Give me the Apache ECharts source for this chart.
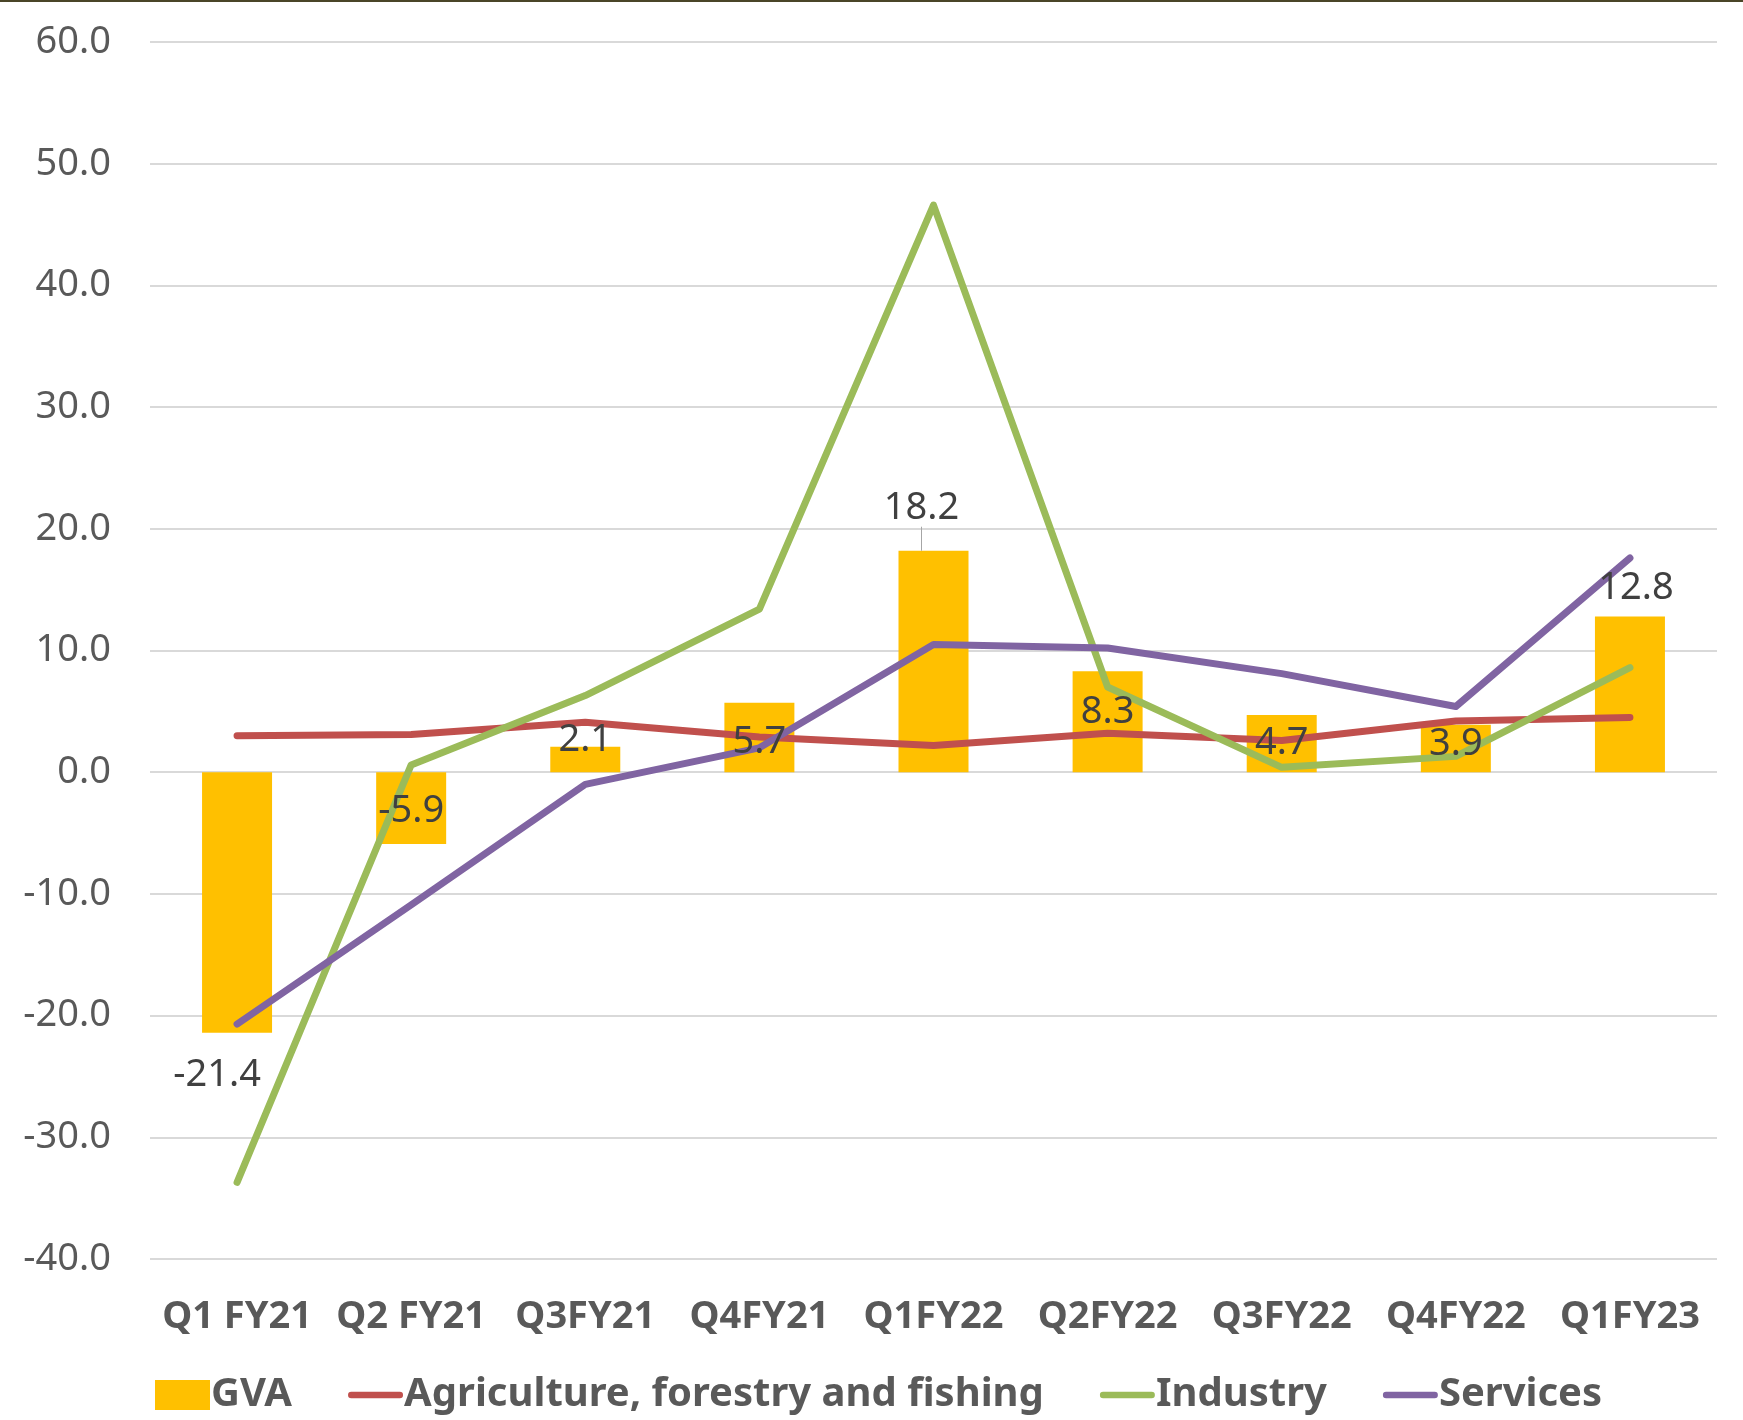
<!DOCTYPE html>
<html><head><meta charset="utf-8">
<script src="https://cdn.jsdelivr.net/npm/echarts@6/dist/echarts.min.js"></script>
<style>html,body{margin:0;padding:0;background:#fff}#c{width:1743px;height:1420px}</style>
</head><body><div id="c"></div>
<script>
const categories = ['Q1 FY21','Q2 FY21','Q3FY21','Q4FY21','Q1FY22','Q2FY22','Q3FY22','Q4FY22','Q1FY23'];
const gva = [-21.4, -5.9, 2.1, 5.7, 18.2, 8.3, 4.7, 3.9, 12.8];
const agriculture = [3.0, 3.1, 4.1, 2.9, 2.2, 3.2, 2.6, 4.2, 4.5];
const industry = [-33.7, 0.6, 6.3, 13.4, 46.6, 7.0, 0.4, 1.3, 8.6];
const services = [-20.7, -10.9, -1.0, 2.0, 10.5, 10.2, 8.1, 5.4, 17.6];
const yTicks = [-40, -30, -20, -10, 0, 10, 20, 30, 40, 50, 60];

const FONT = "'Noto Sans',sans-serif";
const TXT = '#595959';

// per-label placement tweaks (styles only)
const labelPos = ['bottom','inside','inside','inside','top','inside','inside','inside','top'];
const labelShift = [[-20,6],[0,3],[0,-19],[0,5],[-12,-14],[0,-10],[0,0],[0,-4],[6,2]];
const labelData = gva.map((v,i)=>({
  value:v,
  label:{position:labelPos[i], distance: i===0 ? 18 : (i===4 ? 10 : 11)},
  labelLine:{show: i===4}
}));

const chart = echarts.init(document.getElementById('c'));
const lineIcon = 'path://M3.5,0 L56.5,0 A3.5,3.5 0 0 1 56.5,7 L3.5,7 A3.5,3.5 0 0 1 3.5,0 Z';
const lineSeries = (name, data, color) => ({
  name, type:'line', data, showSymbol:false, symbol:'none',
  lineStyle:{color, width:7, cap:'round', join:'round'},
  itemStyle:{color}, z:3, animation:false
});
chart.setOption({
  animation:false,
  grid:{left:150, right:26, top:42, bottom:161},
  graphic:[{type:'rect', left:0, top:0, shape:{width:1743, height:2}, style:{fill:'#4a4528'}}],
  xAxis:{type:'category', data:categories,
    axisLine:{show:false}, axisTick:{show:false},
    axisLabel:{fontFamily:FONT, fontSize:38, fontWeight:'bold', color:TXT, margin:39, interval:0}},
  yAxis:{type:'value', min:yTicks[0], max:yTicks[yTicks.length-1], interval:10,
    axisLine:{show:false}, axisTick:{show:false},
    splitLine:{lineStyle:{color:'#d9d9d9', width:2}},
    axisLabel:{fontFamily:FONT, fontSize:38, color:TXT, margin:39, formatter:v=>v.toFixed(1)}},
  legend:{left:150, bottom:0, itemWidth:55, itemHeight:30, itemGap:56,
    textStyle:{fontFamily:FONT, fontSize:40, fontWeight:'bold', color:TXT, padding:[0,0,0,-4]},
    data:[{name:'GVA', icon:'rect'},
          {name:'Agriculture, forestry and fishing', icon:lineIcon},
          {name:'Industry', icon:lineIcon},
          {name:'Services', icon:lineIcon}]},
  series:[
    {name:'GVA', type:'bar', data:gva, barWidth:70, itemStyle:{color:'#FFC000'}, z:2},
    lineSeries('Agriculture, forestry and fishing', agriculture, '#C0504D'),
    lineSeries('Industry', industry, '#9BBB59'),
    lineSeries('Services', services, '#8064A2'),
    {name:'GVA labels', type:'bar', data:labelData, barWidth:70, barGap:'-100%',
     itemStyle:{color:'rgba(0,0,0,0)'}, silent:true, z:5,
     label:{show:true, fontFamily:FONT, fontSize:38, color:'#404040', formatter:p=>p.value.toFixed(1)},
     labelLayout:p=> ({dx:labelShift[p.dataIndex][0], dy:labelShift[p.dataIndex][1]}),
     labelLine:{show:true, lineStyle:{color:'#a6a6a6', width:1}}}
  ]
});
</script></body></html>
